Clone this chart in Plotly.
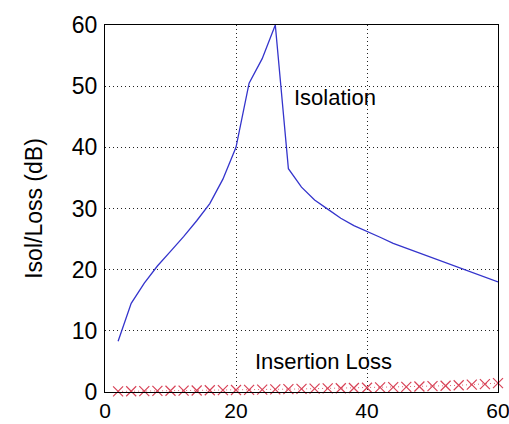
import plotly.graph_objects as go

freq = [2, 4, 6, 8, 10, 12, 14, 16, 18, 20, 22, 24, 26, 28, 30,
        32, 34, 36, 38, 40, 42, 44, 46, 48, 50, 52, 54, 56, 58, 60]
isolation = [8.3, 14.5, 17.8, 20.6, 23.0, 25.4, 28.0, 30.8, 34.8, 40.0,
             50.5, 54.5, 60.0, 36.5, 33.5, 31.4, 29.9, 28.4, 27.2, 26.3,
             25.3, 24.3, 23.5, 22.7, 21.9, 21.1, 20.3, 19.6, 18.8, 18.0]
insertion = [0.1, 0.12, 0.15, 0.18, 0.2, 0.22, 0.25, 0.28, 0.3, 0.33,
             0.36, 0.4, 0.43, 0.47, 0.5, 0.54, 0.58, 0.62, 0.66, 0.7,
             0.75, 0.8, 0.85, 0.9, 0.96, 1.02, 1.1, 1.2, 1.3, 1.45]

x_ticks = [0, 20, 40, 60]
y_ticks = [0, 10, 20, 30, 40, 50, 60]

font = "Liberation Sans, Arial, sans-serif"

fig = go.Figure()
fig.add_trace(go.Scatter(x=freq, y=isolation, mode="lines",
                         line=dict(color="#3434cc", width=1.3),
                         showlegend=False, cliponaxis=False))
fig.add_trace(go.Scatter(x=freq, y=insertion, mode="lines+markers",
                         line=dict(color="#e06070", width=1, dash="1px,3px"),
                         marker=dict(symbol="x-thin", size=10,
                                     line=dict(color="#d84458", width=1.2)),
                         showlegend=False, cliponaxis=False))

fig.add_annotation(x=35.1, y=48.2, text="Isolation", showarrow=False,
                   font=dict(family=font, size=22, color="black"))
fig.add_annotation(x=33.3, y=4.95, text="Insertion Loss", showarrow=False,
                   font=dict(family=font, size=22, color="black"))

axis_common = dict(showline=True, linecolor="black", linewidth=1, mirror=True,
                   showgrid=True, gridcolor="#222222", gridwidth=1,
                   griddash="1px,3px", automargin=False,
                   zeroline=False, ticks="", ticklabeloverflow="allow")

fig.update_xaxes(range=[0, 60], tickvals=x_ticks, ticklabelstandoff=0,
                 tickfont=dict(family=font, size=21, color="black"),
                 **axis_common)
fig.update_yaxes(range=[0, 60], tickvals=y_ticks, ticklabelstandoff=2,
                 tickfont=dict(family=font, size=23, color="black"),
                 title=dict(text="Isol/Loss (dB)",
                            font=dict(family=font, size=23, color="black"),
                            standoff=22),
                 **axis_common)

fig.update_layout(width=509, height=424,
                  margin=dict(l=105, r=11, t=25, b=32),
                  paper_bgcolor="white", plot_bgcolor="white")

fig.write_html("out.html")
